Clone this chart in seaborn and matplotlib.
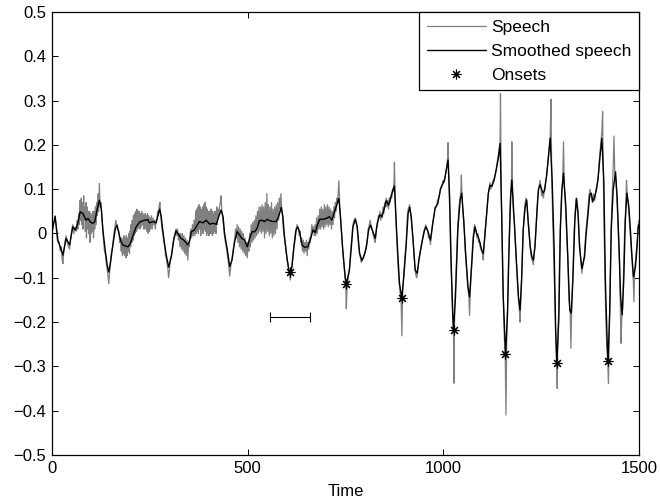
import matplotlib
matplotlib.use("Agg")
import matplotlib.pyplot as plt
import matplotlib.ticker as mticker
import numpy as np
import pandas as pd
import seaborn as sns

# ---------------- data ----------------
speech_tv = [
    (0, 0.0), (3, 0.02), (6, 0.03), (8, 0.04), (10, 0.02), (13, -0.01), (15, -0.02), (18, -0.02),
    (21, -0.04), (24, -0.03), (26, -0.06), (28, -0.068), (30, -0.04), (33, -0.02), (36, -0.005),
    (39, -0.02), (42, -0.03), (45, -0.035), (48, -0.01), (51, 0.01), (53, 0.02), (56, 0.0),
    (59, 0.015), (62, 0.005), (64, 0.03), (66, 0.01), (68, 0.045), (70, 0.02), (72, 0.075),
    (73, 0.03), (75, 0.08), (76, 0.02), (78, 0.07), (79, 0.01), (81, 0.085), (82, 0.03), (84, 0.06),
    (85, 0.005), (87, 0.07), (88, -0.01), (90, 0.06), (91, 0.01), (93, 0.05), (94, 0.0), (96, 0.05),
    (97, -0.02), (99, 0.045), (100, 0.0), (102, 0.04), (103, 0.005), (105, 0.05), (106, -0.01),
    (108, 0.05), (109, 0.01), (111, 0.06), (112, 0.02), (114, 0.07), (116, 0.04), (118, 0.09),
    (119, 0.05), (121, 0.113), (123, 0.06), (125, 0.07), (127, 0.04), (129, 0.02), (131, -0.01),
    (134, -0.04), (137, -0.05), (139, -0.07), (141, -0.08), (143, -0.095), (145, -0.113),
    (147, -0.09), (149, -0.07), (152, -0.04), (155, -0.03), (158, 0.0), (161, 0.015), (163, 0.03),
    (165, 0.02), (168, 0.01), (171, 0.005), (173, -0.02), (175, -0.01), (177, -0.04), (178, -0.01),
    (180, -0.05), (181, -0.015), (183, -0.045), (184, -0.005), (186, -0.05), (187, -0.01),
    (189, -0.055), (190, -0.005), (192, -0.05), (193, -0.01), (195, -0.04), (196, 0.0),
    (198, -0.045), (199, 0.005), (201, -0.03), (202, 0.02), (204, -0.02), (205, 0.03),
    (207, -0.015), (208, 0.04), (210, -0.005), (211, 0.045), (213, 0.0), (214, 0.05), (216, 0.005),
    (217, 0.055), (219, 0.01), (220, 0.05), (222, 0.015), (223, 0.05), (225, 0.01), (226, 0.045),
    (228, 0.015), (229, 0.05), (231, 0.02), (232, 0.045), (234, 0.01), (235, 0.04), (237, 0.01),
    (238, 0.045), (240, 0.015), (241, 0.04), (243, 0.005), (244, 0.045), (246, 0.0), (247, 0.04),
    (249, 0.005), (250, 0.035), (252, 0.01), (254, 0.04), (256, 0.01), (258, 0.035), (260, 0.02),
    (262, 0.03), (264, 0.01), (266, 0.03), (268, 0.03), (270, 0.05), (272, 0.04), (274, 0.065),
    (276, 0.07), (277, 0.05), (279, 0.03), (281, 0.01), (283, 0.0), (285, -0.015), (288, -0.03),
    (290, -0.05), (293, -0.06), (296, -0.08), (298, -0.1), (300, -0.085), (302, -0.06),
    (305, -0.05), (308, -0.03), (311, -0.01), (314, 0.0), (317, 0.01), (319, -0.005), (321, 0.01),
    (323, -0.015), (325, 0.0), (327, -0.03), (329, 0.0), (331, -0.035), (333, 0.0), (335, -0.04),
    (337, -0.005), (339, -0.045), (341, -0.01), (343, -0.05), (345, -0.015), (347, -0.06),
    (349, -0.02), (351, -0.03), (353, 0.0), (355, 0.01), (357, -0.01), (359, 0.02), (361, -0.005),
    (363, 0.03), (365, -0.005), (367, 0.05), (368, 0.0), (370, 0.055), (371, 0.005), (373, 0.06),
    (374, 0.0), (376, 0.065), (377, 0.01), (379, 0.06), (380, -0.005), (382, 0.055), (383, 0.01),
    (385, 0.06), (386, 0.0), (388, 0.065), (389, 0.01), (391, 0.07), (392, 0.005), (394, 0.06),
    (395, -0.005), (397, 0.055), (398, 0.0), (400, 0.05), (401, -0.005), (403, 0.05), (404, 0.0),
    (406, 0.055), (407, 0.0), (409, 0.05), (410, -0.005), (412, 0.045), (413, 0.0), (415, 0.05),
    (416, 0.005), (418, 0.05), (419, 0.0), (421, 0.06), (422, 0.02), (424, 0.055), (426, 0.04),
    (428, 0.06), (430, 0.07), (432, 0.085), (434, 0.05), (436, 0.04), (438, 0.02), (440, 0.0),
    (443, -0.02), (446, -0.035), (449, -0.055), (452, -0.075), (454, -0.096), (456, -0.08),
    (458, -0.065), (461, -0.05), (464, -0.03), (467, -0.01), (469, 0.01), (471, -0.01), (473, 0.02),
    (475, -0.02), (477, 0.015), (479, -0.03), (481, 0.01), (483, -0.035), (485, 0.005),
    (487, -0.04), (489, 0.0), (491, -0.045), (493, -0.01), (495, -0.05), (497, -0.02),
    (499, -0.055), (501, -0.02), (503, -0.04), (505, 0.0), (507, -0.03), (509, 0.02), (511, -0.02),
    (513, 0.025), (515, -0.015), (517, 0.03), (519, -0.01), (521, 0.04), (523, -0.005),
    (525, 0.05), (527, 0.0), (529, 0.06), (531, 0.005), (533, 0.06), (535, 0.0), (537, 0.065),
    (539, 0.005), (541, 0.06), (543, -0.01), (545, 0.07), (547, 0.0), (549, 0.09), (551, 0.005),
    (553, 0.065), (555, -0.005), (557, 0.06), (559, 0.0), (561, 0.07), (563, -0.01), (565, 0.055),
    (567, -0.005), (569, 0.06), (571, 0.0), (573, 0.065), (575, 0.01), (577, 0.07), (579, 0.03),
    (581, 0.08), (583, 0.055), (585, 0.09), (587, 0.05), (589, 0.04), (591, 0.01), (594, -0.01),
    (597, -0.03), (600, -0.055), (603, -0.07), (606, -0.085), (609, -0.105), (611, -0.09),
    (613, -0.075), (616, -0.045), (619, -0.02), (622, 0.005), (624, 0.01), (626, 0.02),
    (628, 0.012), (630, 0.01), (632, -0.005), (634, 0.005), (636, -0.02), (638, -0.01),
    (640, -0.04), (642, -0.015), (644, -0.045), (646, -0.02), (648, -0.04), (650, -0.015),
    (652, -0.05), (654, -0.02), (656, -0.035), (658, -0.01), (660, -0.02), (662, 0.0), (664, 0.02),
    (666, 0.005), (668, 0.015), (670, -0.005), (672, 0.02), (674, -0.005), (676, 0.035),
    (678, 0.0), (680, 0.04), (682, 0.01), (684, 0.055), (686, 0.01), (688, 0.06), (690, 0.015),
    (692, 0.055), (694, 0.01), (696, 0.065), (698, 0.015), (700, 0.06), (702, 0.02), (704, 0.065),
    (706, 0.015), (708, 0.06), (710, 0.02), (712, 0.055), (714, 0.01), (716, 0.05), (718, 0.02),
    (720, 0.06), (722, 0.035), (724, 0.07), (726, 0.05), (728, 0.08), (730, 0.07), (732, 0.1),
    (733, 0.119), (735, 0.07), (737, 0.04), (740, 0.0), (743, -0.04), (746, -0.07), (749, -0.1),
    (751, -0.13), (752, -0.17), (754, -0.12), (757, -0.1), (760, -0.08), (763, -0.04),
    (766, -0.01), (769, 0.02), (772, 0.03), (775, 0.035), (778, 0.025), (781, 0.0), (784, -0.035),
    (787, -0.05), (790, -0.065), (793, -0.06), (796, -0.05), (799, -0.045), (802, -0.03),
    (805, -0.02), (808, 0.01), (811, 0.02), (813, 0.03), (815, 0.015), (818, 0.01), (821, -0.005),
    (824, -0.015), (826, -0.02), (829, 0.01), (832, 0.02), (834, 0.04), (836, 0.035), (838, 0.05),
    (840, 0.03), (842, 0.045), (844, 0.035), (846, 0.06), (848, 0.045), (850, 0.07), (852, 0.06),
    (854, 0.08), (856, 0.06), (858, 0.075), (860, 0.055), (862, 0.08), (864, 0.07), (866, 0.085),
    (868, 0.08), (870, 0.1), (872, 0.095), (874, 0.12), (875, 0.161), (877, 0.08), (880, 0.01),
    (883, -0.05), (886, -0.1), (889, -0.13), (892, -0.15), (894, -0.231), (896, -0.13),
    (899, -0.09), (902, -0.05), (905, -0.02), (908, 0.04), (910, 0.055), (912, 0.06), (914, 0.065),
    (917, 0.04), (920, 0.01), (923, -0.02), (926, -0.06), (928, -0.085), (930, -0.095),
    (932, -0.1), (934, -0.09), (937, -0.06), (940, -0.045), (943, -0.03), (946, -0.015),
    (949, 0.0), (952, 0.01), (955, 0.02), (957, 0.01), (960, 0.005), (962, -0.01), (964, -0.005),
    (967, -0.025), (970, 0.0), (973, 0.025), (976, 0.04), (979, 0.06), (982, 0.06), (985, 0.075),
    (988, 0.08), (991, 0.09), (993, 0.1), (996, 0.105), (999, 0.12), (1002, 0.115), (1005, 0.13),
    (1008, 0.145), (1011, 0.17), (1012, 0.205), (1014, 0.12), (1016, 0.06), (1018, -0.02),
    (1020, -0.08), (1022, -0.14), (1024, -0.19), (1026, -0.23), (1027, -0.338), (1029, -0.17),
    (1031, -0.12), (1034, -0.05), (1037, 0.02), (1040, 0.06), (1043, 0.08), (1045, 0.1),
    (1046, 0.132), (1048, 0.08), (1050, 0.05), (1053, 0.02), (1056, -0.04), (1059, -0.08),
    (1062, -0.12), (1065, -0.14), (1067, -0.185), (1069, -0.13), (1072, -0.08), (1075, -0.02),
    (1078, 0.01), (1080, 0.02), (1082, 0.01), (1084, 0.005), (1086, -0.01), (1088, 0.0),
    (1090, -0.02), (1092, -0.015), (1094, -0.03), (1096, -0.035), (1098, -0.04), (1100, -0.045),
    (1102, -0.06), (1104, -0.03), (1106, 0.0), (1109, 0.03), (1112, 0.06), (1115, 0.09),
    (1117, 0.1), (1119, 0.115), (1121, 0.1), (1124, 0.11), (1127, 0.12), (1130, 0.125),
    (1133, 0.135), (1136, 0.15), (1139, 0.17), (1142, 0.185), (1145, 0.21), (1146, 0.316),
    (1148, 0.1), (1150, 0.0), (1152, -0.1), (1154, -0.17), (1156, -0.24), (1158, -0.27),
    (1160, -0.41), (1162, -0.24), (1164, -0.17), (1166, -0.08), (1168, -0.02), (1170, 0.05),
    (1172, 0.09), (1174, 0.12), (1175, 0.207), (1177, 0.1), (1179, 0.05), (1182, 0.02),
    (1185, -0.04), (1188, -0.09), (1191, -0.14), (1194, -0.17), (1196, -0.2), (1198, -0.15),
    (1200, -0.1), (1203, -0.02), (1206, 0.04), (1209, 0.07), (1211, 0.08), (1213, 0.07),
    (1215, 0.05), (1218, 0.02), (1221, -0.02), (1224, -0.05), (1227, -0.06), (1230, -0.07),
    (1232, -0.05), (1235, -0.02), (1238, 0.03), (1241, 0.08), (1244, 0.1), (1247, 0.12),
    (1249, 0.11), (1251, 0.085), (1253, 0.09), (1256, 0.08), (1258, 0.1), (1261, 0.115),
    (1264, 0.13), (1267, 0.16), (1270, 0.19), (1273, 0.22), (1275, 0.303), (1277, 0.13),
    (1279, 0.05), (1282, -0.05), (1285, -0.15), (1287, -0.23), (1289, -0.28), (1291, -0.35),
    (1293, -0.22), (1295, -0.17), (1297, -0.05), (1299, 0.02), (1302, 0.09), (1305, 0.12),
    (1307, 0.207), (1309, 0.11), (1312, 0.06), (1315, 0.0), (1318, -0.06), (1321, -0.15),
    (1324, -0.17), (1326, -0.259), (1328, -0.16), (1331, -0.09), (1334, 0.0), (1337, 0.05),
    (1340, 0.08), (1342, 0.07), (1345, 0.04), (1348, -0.02), (1351, -0.06), (1354, -0.09),
    (1357, -0.07), (1360, -0.05), (1363, -0.01), (1366, 0.02), (1369, 0.05), (1372, 0.085),
    (1375, 0.1), (1378, 0.08), (1381, 0.07), (1384, 0.09), (1387, 0.075), (1390, 0.1),
    (1393, 0.11), (1396, 0.13), (1399, 0.17), (1402, 0.2), (1405, 0.23), (1407, 0.275),
    (1409, 0.12), (1411, 0.0), (1413, -0.1), (1415, -0.19), (1418, -0.26), (1420, -0.29),
    (1422, -0.338), (1424, -0.22), (1426, -0.15), (1428, -0.02), (1430, 0.05), (1432, 0.1),
    (1434, 0.15), (1436, 0.22), (1438, 0.14), (1441, 0.12), (1444, 0.07), (1447, 0.0),
    (1450, -0.07), (1452, -0.15), (1454, -0.248), (1456, -0.19), (1458, -0.17), (1460, -0.1),
    (1463, 0.0), (1466, 0.06), (1468, 0.12), (1470, 0.085), (1473, 0.06), (1476, 0.02),
    (1479, -0.02), (1482, -0.06), (1485, -0.1), (1487, -0.154), (1489, -0.08), (1492, -0.05),
    (1495, -0.02), (1498, 0.02), (1500, 0.03),
]

smoothed_tv = [
    (0, 0.004), (8, 0.038), (15, -0.015), (21, -0.030), (28, -0.049), (36, -0.011), (45, -0.026),
    (53, 0.015), (60, 0.008), (66, 0.023), (72, 0.049), (79, 0.045), (87, 0.030), (92, 0.034),
    (98, 0.026), (104, 0.023), (109, 0.026), (115, 0.053), (121, 0.075), (126, 0.056), (130, 0.008),
    (136, -0.038), (141, -0.071), (145, -0.087), (149, -0.068), (156, -0.023), (162, 0.011),
    (166, 0.019), (171, 0.0), (175, -0.015), (181, -0.026), (190, -0.029), (194, -0.030),
    (200, -0.023), (207, -0.004), (215, 0.015), (224, 0.026), (236, 0.030), (245, 0.031),
    (249, 0.024), (258, 0.027), (266, 0.024), (271, 0.042), (275, 0.055), (279, 0.038),
    (283, 0.008), (288, -0.026), (292, -0.049), (298, -0.076), (305, -0.052), (311, -0.015),
    (317, 0.006), (322, 0.0), (329, -0.011), (334, -0.013), (340, -0.018), (347, -0.026),
    (352, -0.015), (356, 0.004), (364, 0.008), (371, 0.019), (377, 0.027), (386, 0.024),
    (394, 0.030), (403, 0.021), (411, 0.023), (420, 0.021), (426, 0.038), (432, 0.053),
    (437, 0.038), (441, 0.0), (448, -0.037), (454, -0.075), (460, -0.060), (466, -0.022),
    (473, 0.004), (479, -0.003), (485, -0.011), (492, -0.015), (499, -0.030), (505, -0.011),
    (511, 0.004), (518, 0.004), (524, 0.012), (530, 0.029), (536, 0.030), (543, 0.027),
    (550, 0.032), (556, 0.029), (564, 0.027), (573, 0.027), (579, 0.038), (586, 0.059),
    (590, 0.038), (594, -0.007), (600, -0.052), (605, -0.082), (609, -0.088), (613, -0.075),
    (618, -0.033), (624, 0.009), (628, 0.015), (633, 0.002), (639, -0.026), (645, -0.031),
    (654, -0.030), (661, -0.011), (667, 0.008), (673, 0.002), (678, 0.019), (684, 0.032),
    (692, 0.032), (701, 0.034), (709, 0.038), (715, 0.030), (722, 0.049), (729, 0.068),
    (733, 0.079), (737, 0.038), (743, -0.037), (749, -0.097), (752, -0.115), (760, -0.082),
    (765, -0.030), (769, 0.015), (775, 0.032), (780, 0.015), (786, -0.045), (792, -0.061),
    (797, -0.052), (803, -0.033), (809, 0.008), (814, 0.019), (820, 0.004), (826, -0.011),
    (831, 0.023), (837, 0.042), (843, 0.038), (848, 0.053), (854, 0.074), (860, 0.064),
    (865, 0.079), (871, 0.098), (875, 0.107), (880, 0.015), (884, -0.052), (888, -0.113),
    (894, -0.146), (899, -0.097), (905, -0.026), (910, 0.045), (914, 0.059), (918, 0.038),
    (922, -0.007), (928, -0.082), (933, -0.090), (939, -0.052), (945, -0.022), (952, 0.008),
    (956, 0.015), (961, 0.004), (967, -0.015), (973, 0.023), (979, 0.057), (986, 0.068),
    (993, 0.102), (999, 0.113), (1003, 0.121), (1006, 0.136), (1012, 0.166), (1016, 0.083),
    (1020, -0.067), (1024, -0.18), (1026, -0.218), (1031, -0.143), (1037, 0.008), (1043, 0.076),
    (1047, 0.091), (1052, 0.030), (1057, -0.045), (1063, -0.12), (1067, -0.143), (1072, -0.075),
    (1077, -0.007), (1081, 0.015), (1085, 0.0), (1089, -0.007), (1094, -0.022), (1098, -0.037),
    (1102, -0.045), (1106, -0.007), (1111, 0.046), (1115, 0.091), (1119, 0.109), (1124, 0.106),
    (1130, 0.121), (1135, 0.143), (1141, 0.173), (1145, 0.203), (1149, 0.046), (1153, -0.143),
    (1158, -0.255), (1159, -0.273), (1164, -0.18), (1168, -0.03), (1172, 0.083), (1175, 0.121),
    (1181, 0.030), (1187, -0.067), (1192, -0.143), (1196, -0.173), (1200, -0.105), (1204, 0.008),
    (1209, 0.060), (1213, 0.076), (1217, 0.023), (1222, -0.030), (1226, -0.052), (1230, -0.060),
    (1234, -0.030), (1239, 0.046), (1243, 0.10), (1247, 0.11), (1251, 0.10), (1255, 0.091),
    (1259, 0.098), (1263, 0.125), (1267, 0.158), (1273, 0.215), (1278, 0.121), (1283, -0.03),
    (1287, -0.218), (1290, -0.293), (1295, -0.195), (1299, 0.008), (1303, 0.098), (1307, 0.136),
    (1313, 0.061), (1318, -0.052), (1323, -0.173), (1327, -0.18), (1331, -0.105), (1336, 0.030),
    (1340, 0.079), (1344, 0.046), (1348, -0.030), (1354, -0.079), (1361, -0.052), (1365, 0.0),
    (1370, 0.046), (1374, 0.087), (1378, 0.091), (1382, 0.072), (1387, 0.083), (1391, 0.098),
    (1395, 0.121), (1400, 0.17), (1405, 0.215), (1410, 0.121), (1414, -0.105), (1419, -0.255),
    (1421, -0.287), (1425, -0.18), (1429, 0.008), (1434, 0.098), (1440, 0.139), (1444, 0.083),
    (1449, -0.03), (1453, -0.143), (1457, -0.184), (1461, -0.105), (1465, 0.030), (1469, 0.091),
    (1474, 0.061), (1478, 0.008), (1482, -0.052), (1486, -0.098), (1491, -0.075), (1495, -0.03),
    (1498, 0.015), (1500, 0.02),
]

onset_time = [609, 752, 894, 1026, 1158, 1290, 1421]
onset_value = [-0.088, -0.115, -0.146, -0.218, -0.273, -0.293, -0.287]

window_center = [608.5]
window_halfwidth = [50.5]
window_level = [-0.188]

x_ticks = [0, 500, 1000, 1500]
y_ticks = [-0.5, -0.4, -0.3, -0.2, -0.1, 0, 0.1, 0.2, 0.3, 0.4, 0.5]

# ---------------- style ----------------
sns.set_style("ticks")
plt.rcParams["font.family"] = ["Liberation Sans", "DejaVu Sans"]
plt.rcParams.update({
    "font.size": 12,
    "xtick.direction": "in",
    "ytick.direction": "in",
    "xtick.top": True,
    "ytick.right": True,
    "xtick.major.size": 4,
    "ytick.major.size": 4,
    "xtick.major.width": 0.7,
    "ytick.major.width": 0.7,
    "axes.linewidth": 0.9,
    "axes.edgecolor": "black",
    "xtick.color": "black",
    "ytick.color": "black",
    "text.color": "black",
    "axes.labelcolor": "black",
})

speech = pd.DataFrame(speech_tv, columns=["t", "v"])
smooth = pd.DataFrame(smoothed_tv, columns=["t", "v"])

fig = plt.figure(figsize=(6.6, 5.03), dpi=100)
ax = fig.add_axes([0.0788, 0.0954, 0.8894, 0.8808])

sns.lineplot(data=speech, x="t", y="v", ax=ax, color="#808080", linewidth=0.9,
             sort=False, estimator=None, label="Speech")
sns.lineplot(data=smooth, x="t", y="v", ax=ax, color="black", linewidth=1.0,
             sort=False, estimator=None, label="Smoothed speech")
ax.plot(onset_time, onset_value, linestyle="none", marker=(8, 2, 0), markersize=7,
        markeredgewidth=0.8, color="black", label="Onsets")
ax.errorbar(window_center, window_level, xerr=window_halfwidth, fmt="none",
            ecolor="black", elinewidth=0.8, capsize=3.5, capthick=0.8)

ax.set_xlim(0, 1500)
ax.set_ylim(-0.5, 0.5)
ax.set_xticks(x_ticks)
ax.set_yticks(y_ticks)
ax.yaxis.set_major_formatter(mticker.FuncFormatter(lambda v, p: ("%g" % round(v, 2)).replace("-", "\u2212")))
ax.tick_params(labelsize=12, pad=4)
ax.set_xlabel("Time", fontsize=12, labelpad=6)
ax.set_ylabel("")
for s in ax.spines.values():
    s.set_visible(True)

leg = ax.legend(loc="upper right", borderaxespad=0, fancybox=False, framealpha=1,
                edgecolor="black", handlelength=3.4, labelspacing=0.5, handletextpad=0.3,
                borderpad=0.45, fontsize=12.5)
leg.get_frame().set_linewidth(0.9)

fig.savefig("out.png", dpi=100)
